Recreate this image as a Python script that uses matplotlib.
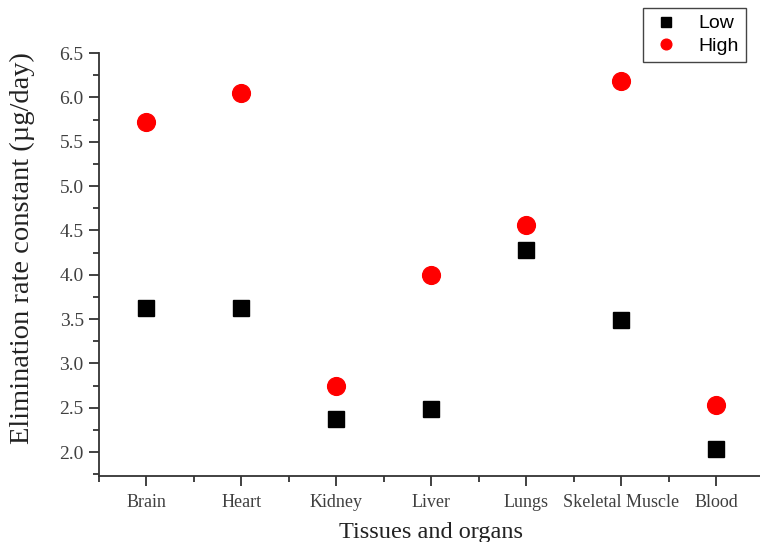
import numpy as np
import matplotlib
matplotlib.use("Agg")
import matplotlib.pyplot as plt
from matplotlib.ticker import MultipleLocator

tissues = ["Brain", "Heart", "Kidney", "Liver", "Lungs", "Skeletal Muscle", "Blood"]
low = [3.63, 3.63, 2.37, 2.49, 4.28, 3.49, 2.03]
high = [5.72, 6.05, 2.74, 4.00, 4.56, 6.18, 2.53]

SERIF = ["Liberation Serif", "DejaVu Serif"]
SANS = ["Liberation Sans", "DejaVu Sans"]
INK = "#333333"

fig = plt.figure(figsize=(7.6, 5.42), dpi=100)
# plot area runs slightly past the right edge of the figure
ax = fig.add_axes([99 / 760, 66 / 542, 664.5 / 760, 423 / 542])

x = np.arange(1, len(tissues) + 1)
ax.plot(x, low, "s", color="black", ms=11.5, mec="black", label="Low", zorder=3)
ax.plot(x, high, "o", color="#ff0000", ms=12.8, mec="#ff0000", label="High", zorder=3)

ax.set_xlim(0.5, 7.5)
ax.set_ylim(1.73, 6.5)
ax.set_xticks(x)
ax.set_xticklabels(tissues, fontsize=13, family=SERIF, color="#404040")
ax.xaxis.set_minor_locator(MultipleLocator(1, offset=0.5))
ax.yaxis.set_minor_locator(MultipleLocator(0.25))
yt = np.arange(2.0, 6.51, 0.5)
ax.set_yticks(yt)
ax.set_yticklabels([f"{v:.1f}" for v in yt], fontsize=14, family=SERIF, color="#404040")

for side in ("top", "right"):
    ax.spines[side].set_visible(False)
for side in ("left", "bottom"):
    ax.spines[side].set_color(INK)
    ax.spines[side].set_linewidth(1.3)
ax.tick_params(which="major", direction="out", length=7, width=1.3, color=INK, pad=4)
ax.tick_params(which="minor", direction="out", length=4, width=1.3, color=INK)
ax.tick_params(axis="x", which="major", pad=6)

ax.set_xlabel("Tissues and organs", fontsize=17.5, family=SERIF, color="#222222")
ax.xaxis.set_label_coords(0.5, -0.108)
ax.set_ylabel("Elimination rate constant (\u00b5g/day)", fontsize=20.5, family=SERIF,
              color="#222222")
ax.yaxis.set_label_coords(-0.096, 0.54)

leg = ax.legend(loc="upper right", bbox_to_anchor=(746 / 760, 1 - 8 / 542),
                bbox_transform=fig.transFigure, borderaxespad=0, fancybox=False,
                framealpha=1, edgecolor="#444444", markerscale=0.6,
                handletextpad=0.9, borderpad=0.35, labelspacing=0.25,
                handlelength=1.6, prop={"family": SANS, "size": 14})
leg.get_frame().set_linewidth(1.0)

fig.savefig("out.png", dpi=100)
